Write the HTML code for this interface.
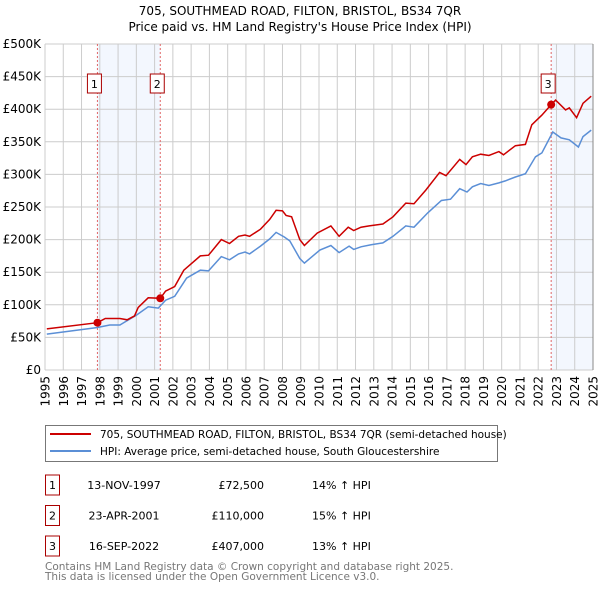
<!DOCTYPE html>
<html><head><meta charset="utf-8"><style>
body{margin:0;background:#fff;font-family:"DejaVu Sans","Liberation Sans",sans-serif;}
svg text{font-family:"DejaVu Sans","Liberation Sans",sans-serif;}
</style></head><body>
<svg id="chart" width="600" height="590" xmlns="http://www.w3.org/2000/svg">
<text x="300" y="15" text-anchor="middle" font-size="12">705, SOUTHMEAD ROAD, FILTON, BRISTOL, BS34 7QR</text>
<text x="300" y="31" text-anchor="middle" font-size="12">Price paid vs. HM Land Registry's House Price Index (HPI)</text>
<g id="plot"></g>
<rect x="45.5" y="425.5" width="452" height="36" fill="#fff" stroke="#777"/>
<line x1="50" y1="434" x2="91" y2="434" stroke="#cc0000" stroke-width="2"/>
<text x="100" y="438" font-size="10.5">705, SOUTHMEAD ROAD, FILTON, BRISTOL, BS34 7QR (semi-detached house)</text>
<line x1="50" y1="451" x2="91" y2="451" stroke="#5b8fd6" stroke-width="2"/>
<text x="100" y="455" font-size="10.5">HPI: Average price, semi-detached house, South Gloucestershire</text>
<g id="table" font-size="11"></g>
<text x="45" y="570" font-size="10.5" fill="#777">Contains HM Land Registry data © Crown copyright and database right 2025.</text>
<text x="45" y="580" font-size="10.5" fill="#777">This data is licensed under the Open Government Licence v3.0.</text>
</svg>
<script>
const hpiYears=[1995.1,1997.83,1998.55,1999.1,2000.0,2000.65,2001.2,2001.6,2002.1,2002.75,2003.5,2003.95,2004.65,2005.1,2005.6,2005.95,2006.2,2006.8,2007.3,2007.65,2008.1,2008.4,2008.95,2009.2,2010.05,2010.65,2011.1,2011.65,2011.9,2012.3,2012.85,2013.5,2014.05,2014.75,2015.2,2015.95,2016.7,2017.2,2017.7,2018.1,2018.4,2018.85,2019.3,2019.85,2020.2,2020.75,2021.3,2021.85,2022.2,2022.8,2023.25,2023.7,2024.2,2024.45,2024.9];
const hpiValues=[55,65,69,69,84,97,95,107,113,141,153,152,174,169,178,181,178,190,201,211,204,198,171,164,184,191,180,190,185,189,192,195,205,221,219,241,260,262,278,273,281,286,283,287,290,296,301,327,333,365,356,353,342,358,368];
const priceYears=[1995.1,1997.87,1998.3,1999.1,1999.5,1999.9,2000.1,2000.65,2001.31,2001.6,2002.1,2002.6,2003.5,2003.95,2004.65,2005.1,2005.6,2005.95,2006.2,2006.8,2007.3,2007.65,2008.0,2008.2,2008.5,2008.95,2009.2,2009.9,2010.65,2011.1,2011.6,2011.9,2012.3,2012.75,2013.5,2014.05,2014.75,2015.2,2015.85,2016.6,2016.95,2017.7,2018.05,2018.4,2018.85,2019.3,2019.85,2020.1,2020.75,2021.3,2021.65,2022.2,2022.71,2022.95,2023.5,2023.7,2024.1,2024.45,2024.9];
const priceValues=[63,72.5,79,79,77,83,96,110.7,110,121,128,153,175,176,200,194,205,207,205,216,231,245,244,237,235,200,191,210,221,205,219,214,219,221,224,235,256,255,276,303,298,323,315,327,331,329,335,330,344,346,376,391,407,414,399,402,387,409,420];
const yTicks=[0,50,100,150,200,250,300,350,400,450,500];
const yTickLabels=["£0","£50K","£100K","£150K","£200K","£250K","£300K","£350K","£400K","£450K","£500K"];
const xTicks=[1995,1996,1997,1998,1999,2000,2001,2002,2003,2004,2005,2006,2007,2008,2009,2010,2011,2012,2013,2014,2015,2016,2017,2018,2019,2020,2021,2022,2023,2024,2025];
const saleLabels=["1","2","3"];
const saleYears=[1997.87,2001.31,2022.71];
const saleValues=[72.5,110,407];
const saleDates=["13-NOV-1997","23-APR-2001","16-SEP-2022"];
const salePrices=["£72,500","£110,000","£407,000"];
const saleDiffs=["14% ↑ HPI","15% ↑ HPI","13% ↑ HPI"];

const NS="http://www.w3.org/2000/svg";
const L=45,R=593,T=44,B=370;
const xs=y=>L+(y-1995)/30*(R-L);
const ys=v=>B-v/500*(B-T);
function mk(tag,attrs,parent,txt){const e=document.createElementNS(NS,tag);for(const k in attrs)e.setAttribute(k,attrs[k]);if(txt!==undefined)e.textContent=txt;parent.appendChild(e);return e;}
const g=document.getElementById('plot');
let s1=mk('rect',{x:xs(saleYears[0]),y:T,width:xs(saleYears[1])-xs(saleYears[0]),height:B-T,fill:'#eef3fd',opacity:0.7},g);


let s2=mk('rect',{x:xs(saleYears[2]),y:T,width:R-xs(saleYears[2]),height:B-T,fill:'#eef3fd',opacity:0.7},g);


yTicks.forEach((v,i)=>{
 let l=mk('line',{x1:L,x2:R,y1:ys(v),y2:ys(v),stroke:'#ccc','stroke-width':1},g);
 
 
 let t=mk('text',{x:L-4,y:ys(v)+4,'text-anchor':'end','font-size':12},g,yTickLabels[i]);
 
 
});
xTicks.forEach(y=>{
 let l=mk('line',{x1:xs(y),x2:xs(y),y1:T,y2:B,stroke:'#ccc','stroke-width':1},g);
 
 
 const tx=xs(y)+4.5, ty=B+6;
 let t=mk('text',{x:tx,y:ty,'text-anchor':'end','font-size':12,transform:'rotate(-90 '+tx+' '+ty+')'},g,String(y));
 
 
});
saleYears.forEach((y,i)=>{
 let l=mk('line',{x1:xs(y),x2:xs(y),y1:T,y2:B,stroke:'#e06666','stroke-width':1,'stroke-dasharray':'2,2'},g);
 
 
 let bx=mk('rect',{x:xs(y)-10,y:74,width:14,height:19,fill:'#fff',stroke:'#aa0000'},g);
 
 
 let t=mk('text',{x:xs(y)-3,y:88,'text-anchor':'middle','font-size':11},g,saleLabels[i]);
 
 
});
function path(xa,va){return xa.map((x,i)=>(i?'L':'M')+xs(x).toFixed(1)+','+ys(va[i]).toFixed(1)).join(' ');}
let hp=mk('path',{d:path(hpiYears,hpiValues),fill:'none',stroke:'#5b8fd6','stroke-width':1.5},g);


let pp=mk('path',{d:path(priceYears,priceValues),fill:'none',stroke:'#cc0000','stroke-width':1.5},g);


saleYears.forEach((y,i)=>{
 let c=mk('circle',{cx:xs(y),cy:ys(saleValues[i]),r:4,fill:'#cc0000'},g);
 
 
});
mk('line',{x1:R,x2:R,y1:T,y2:B,stroke:'#888','stroke-width':1},g);
const tb=document.getElementById('table');
saleLabels.forEach((lab,i)=>{
 const y=485+i*30.5;
 let b=mk('rect',{x:45.5,y:y-10,width:14,height:20,fill:'#fff',stroke:'#aa0000'},tb);
 
 
 let t0=mk('text',{x:52.5,y:y+4,'text-anchor':'middle'},tb,lab);
 
 
 let t1=mk('text',{x:124,y:y+4,'text-anchor':'middle'},tb,saleDates[i]);
 
 
 let t2=mk('text',{x:264,y:y+4,'text-anchor':'end'},tb,salePrices[i]);
 
 
 let t3=mk('text',{x:312,y:y+4},tb,saleDiffs[i]);
 
 
});
</script>
</body></html>
